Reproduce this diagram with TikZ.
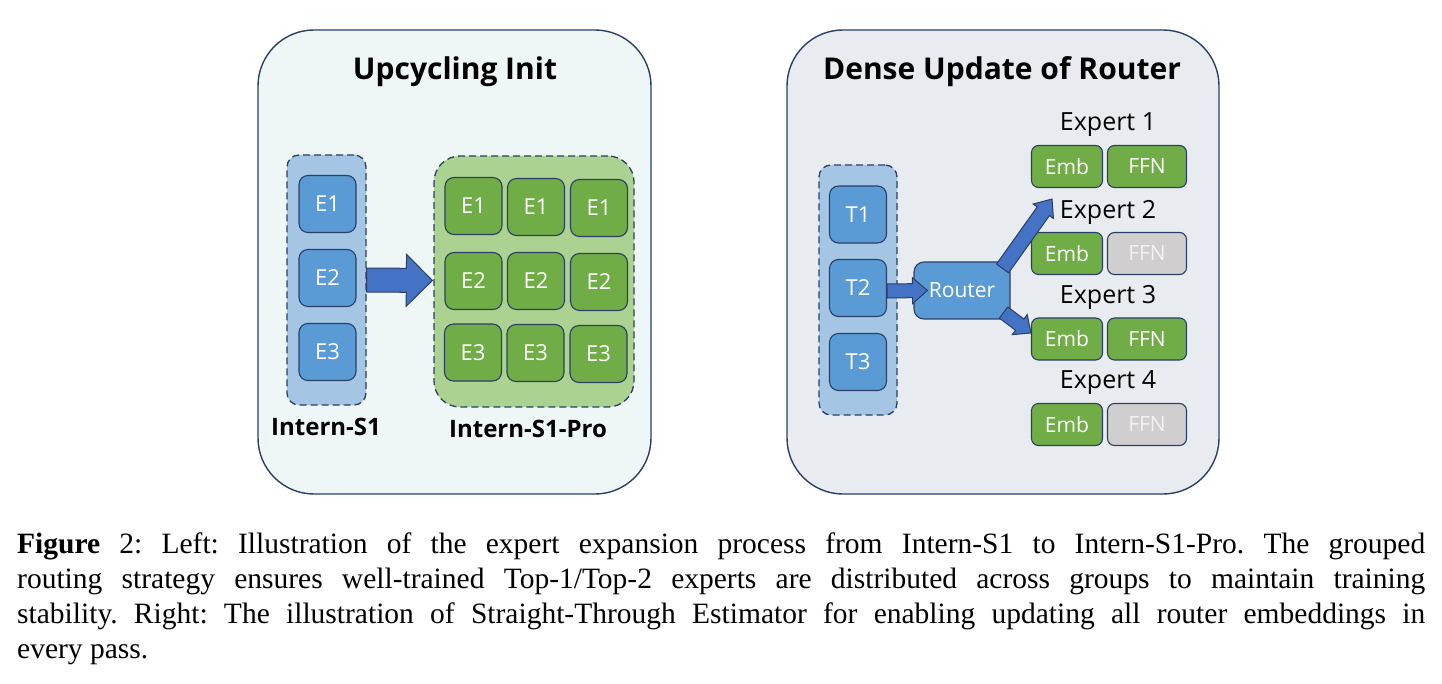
\documentclass[tikz,border=0pt]{standalone}
\usepackage{fontspec}
\usetikzlibrary{calc}
\newfontfamily\dfont{Open Sans}
\newfontfamily\capfont{Liberation Serif}
\definecolor{bordc}{HTML}{2B3F66}
\definecolor{lpanel}{HTML}{EFF7F6}
\definecolor{rpanel}{HTML}{E8EBF0}
\definecolor{bluegrp}{HTML}{A4C5E4}
\definecolor{bluebox}{HTML}{5B9BD5}
\definecolor{arrowc}{HTML}{4472C4}
\definecolor{greengrp}{HTML}{ABD291}
\definecolor{greenbox}{HTML}{70AD47}
\definecolor{graybox}{HTML}{D0CECE}
\definecolor{graytext}{HTML}{F2F2F2}
\tikzset{
  panel/.style={draw=bordc, line width=1.4pt, rounded corners=56pt, inner sep=0},
  grpbox/.style={draw=bordc, dash pattern=on 7pt off 4pt, line width=1.3pt, inner sep=0},
  cell/.style={draw=bordc, rounded corners=9pt, line width=1.1pt, text=white, inner sep=0,
    font=\dfont\fontsize{22}{26}\selectfont},
  bcell/.style={cell, fill=bluebox, minimum width=57pt, minimum height=57pt},
  gcell/.style={cell, fill=greenbox, minimum width=57pt, minimum height=57pt},
  emb/.style={cell, fill=greenbox, rounded corners=7pt, minimum width=71pt, minimum height=42pt,
    font=\dfont\fontsize{21}{25}\selectfont},
  ffn/.style={emb, minimum width=79pt},
  ffngray/.style={ffn, fill=graybox, text=graytext},
  ttl/.style={font=\dfont\bfseries\fontsize{30}{34}\selectfont, inner sep=0},
  lbl/.style={font=\dfont\bfseries\fontsize{24}{28}\selectfont, inner sep=0},
  exl/.style={font=\dfont\fontsize{25}{29}\selectfont, inner sep=0},
  blockarrow/.style={draw=bordc, fill=arrowc, line width=1pt, line join=miter},
  capl/.style={anchor=base west, inner sep=0, font=\capfont\fontsize{29.5}{35}\selectfont\frenchspacing},
}
% #1 start, #2 tip, #3 shaft half width, #4 head half width, #5 head length
\newcommand\blockarr[5]{%
  \path (#1) coordinate (ba-s) (#2) coordinate (ba-e);
  \path ($(ba-e)!#5!(ba-s)$) coordinate (ba-h);
  \draw[blockarrow] ($(ba-s)!#3!90:(ba-e)$) -- ($(ba-h)!#3!-90:(ba-s)$) -- ($(ba-h)!#4!-90:(ba-s)$)
    -- (ba-e) -- ($(ba-h)!#4!90:(ba-s)$) -- ($(ba-h)!#3!90:(ba-s)$) -- ($(ba-s)!#3!-90:(ba-e)$) -- cycle;}
\begin{document}
\begin{tikzpicture}[x=1pt, y=-1pt]
\useasboundingbox (0,0) rectangle (1442,684);
\fill[white] (0,0) rectangle (1442,684);

% ---------------- Left panel ----------------
\node[panel, fill=lpanel, minimum width=393pt, minimum height=464pt] (lp) at (454.5,262) {};
\node[ttl] (lt) at (455,72) {Upcycling Init};

\node[grpbox, fill=bluegrp, rounded corners=12pt, minimum width=79pt, minimum height=250pt] (is1) at (326.5,280) {};
\node[bcell] (e1) at (327.5,204) {E1};
\node[bcell] (e2) at (327.5,278) {E2};
\node[bcell] (e3) at (327.5,352) {E3};
\node[lbl] (is1l) at (326,427) {Intern-S1};

\node[grpbox, fill=greengrp, rounded corners=26pt, minimum width=200pt, minimum height=251pt] (pro) at (534,281.5) {};
\node[gcell] (p11) at (473.5,206) {E1};
\node[gcell] (p12) at (536,207) {E1};
\node[gcell] (p13) at (599,208) {E1};
\node[gcell] (p21) at (473.5,281) {E2};
\node[gcell] (p22) at (536,281) {E2};
\node[gcell] (p23) at (599,282) {E2};
\node[gcell] (p31) at (473,352.5) {E3};
\node[gcell] (p32) at (535.5,353) {E3};
\node[gcell] (p33) at (598.5,354) {E3};
\node[lbl] (prol) at (528,429) {Intern-S1-Pro};

\blockarr{is1.east}{$(pro.west)+(-1,-1)$}{12pt}{26pt}{26pt}

% ---------------- Right panel ----------------
\node[panel, fill=rpanel, minimum width=432pt, minimum height=464pt] (rp) at (1003,262) {};
\node[ttl] (rt) at (1002,72) {Dense Update of Router};

\node[grpbox, fill=bluegrp, rounded corners=12pt, minimum width=78pt, minimum height=250pt] (tg) at (858,290) {};
\node[bcell] (t1) at (858,214.5) {T1};
\node[bcell] (t2) at (858,288) {T2};
\node[bcell] (t3) at (858,362) {T3};

\node[bcell, minimum width=96pt, rounded corners=10pt, font=\dfont\fontsize{21}{25}\selectfont] (router) at (962,290.5) {Router};

\node[exl] (x1) at (1108,125) {Expert 1};
\node[emb] (e1emb) at (1067,166.5) {Emb};
\node[ffn] (e1ffn) at (1147,166.5) {FFN};
\node[exl] (x2) at (1108,212) {Expert 2};
\node[emb] (e2emb) at (1067,253.5) {Emb};
\node[ffngray] (e2ffn) at (1147,253.5) {FFN};
\node[exl] (x3) at (1108,297) {Expert 3};
\node[emb] (e3emb) at (1067,339) {Emb};
\node[ffn] (e3ffn) at (1147,339) {FFN};
\node[exl] (x4) at (1108,383) {Expert 4};
\node[emb] (e4emb) at (1067,424.5) {Emb};
\node[ffngray] (e4ffn) at (1147,424.5) {FFN};

\blockarr{$(t2.east)+(0,3)$}{$(router.west)+(14,0)$}{7pt}{13pt}{15pt}
\blockarr{$(router.north east)+(-8,7)$}{$(e1emb.south)+(-15,11)$}{7.5pt}{12.5pt}{15pt}
\blockarr{$(router.south east)+(-7,-7)$}{$(e3emb.west)+(0,-6)$}{7pt}{12.5pt}{14pt}

% ---------------- Caption ----------------
\node[capl] (c1) at (17,553) {\makebox[1408pt][s]{\textbf{Figure} 2: Left: Illustration of the expert expansion process from Intern-S1 to Intern-S1-Pro. The grouped}};
\node[capl] (c2) at (17,588) {\makebox[1408pt][s]{routing strategy ensures well-trained Top-1/Top-2 experts are distributed across groups to maintain training}};
\node[capl] (c3) at (17,623) {\makebox[1408pt][s]{stability. Right: The illustration of Straight-Through Estimator for enabling updating all router embeddings in}};
\node[capl] (c4) at (17,658) {every pass.};
\end{tikzpicture}
\end{document}
